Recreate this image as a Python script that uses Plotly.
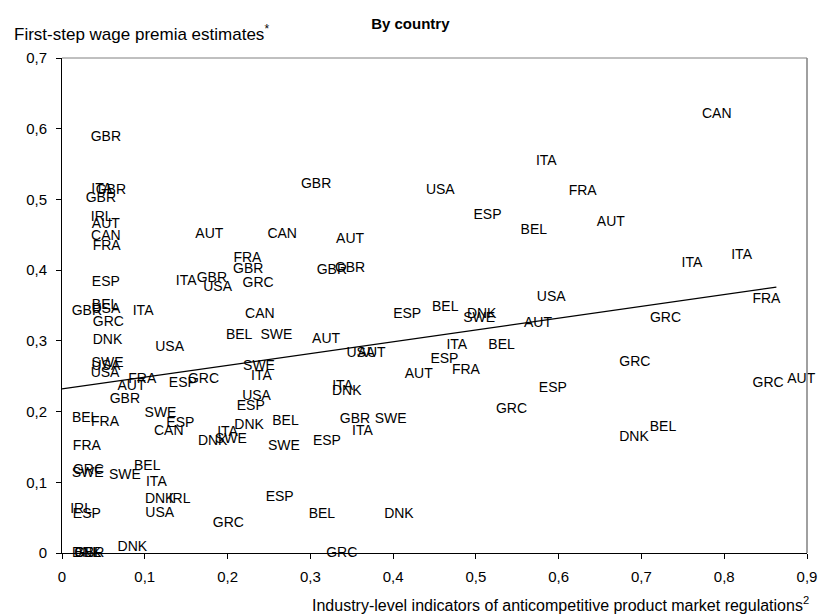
import plotly.graph_objects as go

# Country label for each industry-level observation
countries = [
    "CAN", "GBR", "ITA", "GBR", "USA", "FRA", "ITA", "GBR", "GBR", "ESP",
    "IRL", "AUT", "AUT", "BEL", "AUT", "CAN", "AUT", "CAN", "FRA", "FRA",
    "ITA", "ITA", "GBR", "GBR", "GBR", "ESP", "ITA", "GBR", "USA", "GRC",
    "USA", "FRA", "GBR", "BEL", "USA", "ITA", "ESP", "BEL", "DNK", "SWE",
    "CAN", "GRC", "GRC", "AUT", "BEL", "SWE", "AUT", "DNK", "ITA", "BEL",
    "USA", "USA", "AUT", "ESP", "GRC", "SWE", "USA", "USA", "SWE", "FRA",
    "AUT", "ITA", "FRA", "GRC", "ESP", "GRC", "AUT", "ITA", "DNK", "AUT",
    "ESP", "USA", "GBR", "ESP", "GRC", "SWE", "BEL", "FRA", "GBR", "SWE",
    "BEL", "ESP", "DNK", "BEL", "CAN", "ITA", "ITA", "DNK", "SWE", "DNK",
    "ESP", "SWE", "FRA", "BEL", "GRC", "SWE", "SWE", "ITA", "ESP", "DNK",
    "IRL", "IRL", "USA", "BEL", "DNK", "ESP", "GRC", "DNK", "GRC", "BEL",
    "GBR", "DNK",
]

# Industry-level indicators of anticompetitive product market regulations
pmr_indicator = [
    0.791, 0.053, 0.585, 0.307, 0.457, 0.629, 0.048, 0.059, 0.047, 0.514,
    0.048, 0.053, 0.663, 0.570, 0.178, 0.266, 0.348, 0.053, 0.054, 0.224,
    0.761, 0.821, 0.225, 0.326, 0.348, 0.053, 0.150, 0.181, 0.188, 0.237,
    0.591, 0.851, 0.030, 0.052, 0.053, 0.098, 0.417, 0.463, 0.507, 0.504,
    0.239, 0.729, 0.056, 0.575, 0.214, 0.259, 0.319, 0.055, 0.477, 0.531,
    0.130, 0.361, 0.374, 0.462, 0.692, 0.055, 0.053, 0.052, 0.238, 0.488,
    0.431, 0.241, 0.097, 0.171, 0.146, 0.853, 0.893, 0.339, 0.344, 0.084,
    0.593, 0.235, 0.076, 0.228, 0.543, 0.119, 0.028, 0.052, 0.354, 0.397,
    0.270, 0.143, 0.226, 0.726, 0.129, 0.200, 0.363, 0.691, 0.204, 0.182,
    0.320, 0.268, 0.030, 0.103, 0.032, 0.031, 0.076, 0.114, 0.263, 0.118,
    0.142, 0.023, 0.118, 0.314, 0.407, 0.030, 0.201, 0.085, 0.338, 0.031,
    0.033, 0.030,
]

# First-step wage premia estimates
wage_premia = [
    0.620, 0.587, 0.553, 0.521, 0.512, 0.511, 0.514, 0.512, 0.502, 0.477,
    0.475, 0.465, 0.468, 0.456, 0.450, 0.451, 0.444, 0.447, 0.433, 0.417,
    0.410, 0.421, 0.401, 0.400, 0.403, 0.383, 0.384, 0.388, 0.376, 0.381,
    0.361, 0.358, 0.341, 0.350, 0.345, 0.341, 0.337, 0.347, 0.337, 0.331,
    0.337, 0.332, 0.326, 0.324, 0.308, 0.308, 0.302, 0.301, 0.294, 0.294,
    0.290, 0.282, 0.282, 0.273, 0.269, 0.268, 0.264, 0.254, 0.264, 0.258,
    0.252, 0.249, 0.246, 0.245, 0.240, 0.240, 0.246, 0.236, 0.228, 0.236,
    0.233, 0.222, 0.217, 0.207, 0.203, 0.197, 0.190, 0.185, 0.189, 0.189,
    0.186, 0.183, 0.180, 0.178, 0.172, 0.170, 0.172, 0.163, 0.161, 0.157,
    0.157, 0.150, 0.150, 0.122, 0.116, 0.112, 0.110, 0.100, 0.079, 0.076,
    0.075, 0.062, 0.056, 0.055, 0.055, 0.054, 0.042, 0.008, 0.000, 0.000,
    0.000, 0.000,
]

# Linear trend fitted across the observations
trend_x = [0.0, 0.863]
trend_y = [0.232, 0.376]

x_ticks = [0, 0.1, 0.2, 0.3, 0.4, 0.5, 0.6, 0.7, 0.8, 0.9]
y_ticks = [0, 0.1, 0.2, 0.3, 0.4, 0.5, 0.6, 0.7]

FONT = "Liberation Sans, Arial, sans-serif"

fig = go.Figure()

fig.add_trace(go.Scatter(
    x=pmr_indicator, y=wage_premia, text=countries,
    mode="text", textposition="middle center",
    textfont=dict(family=FONT, size=14, color="#000000"),
    cliponaxis=False, hoverinfo="text", showlegend=False,
))

fig.add_trace(go.Scatter(
    x=trend_x, y=trend_y, mode="lines",
    line=dict(color="#000000", width=1.3),
    hoverinfo="skip", showlegend=False,
))

axis_common = dict(
    showgrid=False, zeroline=False, showline=True, linecolor="#000000",
    linewidth=1, ticks="outside", ticklen=5, tickcolor="#000000",
    tickfont=dict(family=FONT, size=15, color="#000000"),
)

fig.update_xaxes(range=[0, 0.9], tickvals=x_ticks, ticklabelstandoff=5,
                 **axis_common)
fig.update_yaxes(range=[0, 0.7], tickvals=y_ticks, ticklabelstandoff=6,
                 **axis_common)

# Light frame on the top and right edges of the plotting area
fig.add_shape(type="line", xref="paper", yref="paper", x0=0, x1=1, y0=1, y1=1,
              line=dict(color="#808080", width=1))
fig.add_shape(type="line", xref="paper", yref="paper", x0=1, x1=1, y0=0, y1=1,
              line=dict(color="#808080", width=1.5))

fig.add_annotation(
    text="First-step wage premia estimates<sup>*</sup>",
    xref="paper", yref="paper", x=0, y=1, xanchor="left", yanchor="middle",
    xshift=-50, yshift=25, showarrow=False,
    font=dict(family=FONT, size=17, color="#000000"),
)
fig.add_annotation(
    text="Industry-level indicators of anticompetitive product market regulations<sup>2</sup>",
    xref="paper", yref="paper", x=1, y=0, xanchor="right", yanchor="middle",
    xshift=4, yshift=-51, showarrow=False,
    font=dict(family=FONT, size=16, color="#000000"),
)

fig.update_layout(
    width=829, height=614,
    margin=dict(l=61.5, r=12, t=58, b=61, pad=0),
    paper_bgcolor="#ffffff", plot_bgcolor="#ffffff",
    separators=", ",
    title=dict(text="<b>By country</b>", x=0.495, xanchor="center",
               y=1 - 24 / 614, yanchor="middle",
               font=dict(family=FONT, size=15, color="#000000")),
)

fig.write_html("out.html")
